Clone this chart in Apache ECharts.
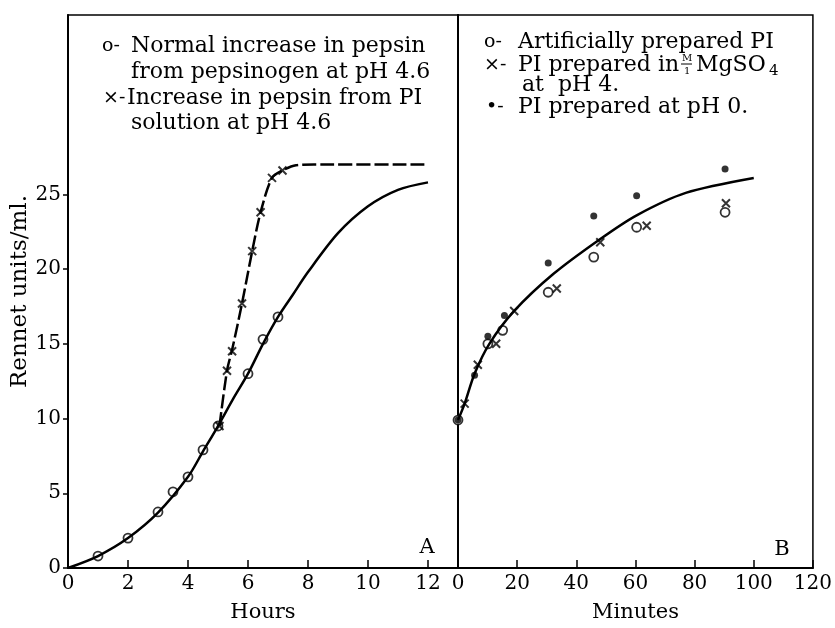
<!DOCTYPE html>
<html>
<head>
<meta charset="utf-8">
<script src="https://cdn.jsdelivr.net/npm/echarts@6/dist/echarts.min.js"></script>
<style>
  html, body { margin: 0; padding: 0; background: #fff; }
  #chart { width: 835px; height: 628px; }
</style>
</head>
<body>
<div id="chart"></div>
<script>
// Panel A: hours
var hoursTicks = [0, 2, 4, 6, 8, 10, 12];
var normalPoints = [[1, 0.8], [2, 2.0], [3, 3.75], [3.5, 5.1], [4, 6.1], [4.5, 7.9], [5, 9.5], [6, 13.0], [6.5, 15.3], [7, 16.8]];
var normalCurve = [[0, 0], [1, 0.8], [2, 2.0], [3, 3.7], [4, 6.1], [4.5, 7.8], [5, 9.5], [5.5, 11.3], [6, 13.0], [6.5, 15.0], [7, 16.8], [7.5, 18.3], [8, 19.8], [9, 22.4], [10, 24.2], [11, 25.3], [12, 25.8]];
var piPoints = [[5.05, 9.5], [5.3, 13.2], [5.47, 14.5], [5.8, 17.7], [6.14, 21.2], [6.42, 23.8], [6.8, 26.1], [7.15, 26.6]];
var piCurve = [[5.05, 9.5], [5.3, 13.2], [5.47, 14.6], [5.8, 17.7], [6.14, 21.2], [6.42, 23.8], [6.8, 26.1], [7.15, 26.6], [7.6, 26.95], [8.2, 27.0], [12, 27.0]];

// Panel B: minutes
var minutesTicks = [0, 20, 40, 60, 80, 100, 120];
var artificialPts = [[0, 9.9], [10.1, 15.0], [15.1, 15.9], [30.5, 18.45], [45.9, 20.8], [60.4, 22.8], [90.3, 23.8]];
var mgso4Pts = [[2.25, 11.0], [6.7, 13.6], [12.9, 15.0], [19.0, 17.2], [33.4, 18.7], [48.1, 21.8], [63.8, 22.9], [90.6, 24.4]];
var ph0Pts = [[0, 9.9], [5.6, 12.9], [10.1, 15.5], [15.7, 16.9], [30.5, 20.4], [45.9, 23.55], [60.4, 24.9], [90.3, 26.7]];
var minutesCurve = [[0, 9.9], [2.25, 11.0], [5.6, 13.0], [10.6, 15.0], [19, 17.2], [32.4, 19.7], [48, 22.0], [60.4, 23.6], [77, 25.1], [100, 26.1]];

var yTicks = [0, 5, 10, 15, 20, 25];

var FONT = 'DejaVu Serif';
var crossPath = 'path://M0,0L10,10M10,0L0,10';

var chart = echarts.init(document.getElementById('chart'));

function txt(x, y, s, size, extra) {
  var style = { text: s, font: size + 'px "' + FONT + '"', fill: '#000', verticalAlign: 'middle' };
  if (extra) { for (var k in extra) style[k] = extra[k]; }
  return { type: 'text', x: x, y: y, style: style };
}

function xAxisFor(idx, max, ticks, name) {
  return {
    type: 'value', gridIndex: idx, min: 0, max: max,
    name: name, nameLocation: 'middle', nameGap: 34,
    nameTextStyle: { fontFamily: FONT, fontSize: 21, color: '#000' },
    axisLine: { show: true, lineStyle: { color: '#000', width: 2 } },
    axisTick: { show: true, inside: true, length: 8, customValues: ticks, lineStyle: { color: '#000', width: 1.5 } },
    axisLabel: { customValues: ticks, margin: 6, fontFamily: FONT, fontSize: 20, color: '#000' },
    splitLine: { show: false }
  };
}

chart.setOption({
  animation: false,
  backgroundColor: '#fff',
  grid: [
    { left: 68, top: 15, width: 390, height: 555, show: true, borderColor: '#000', borderWidth: 1.5 },
    { left: 458, top: 15, width: 358, height: 555, show: true, borderColor: '#000', borderWidth: 1.5 }
  ],
  xAxis: [
    xAxisFor(0, 13, hoursTicks, 'Hours'),
    xAxisFor(1, 120, minutesTicks, 'Minutes')
  ],
  yAxis: [
    {
      type: 'value', gridIndex: 0, min: 0, max: 37,
      name: 'Rennet units/ml.', nameLocation: 'middle', nameGap: 33, nameRotate: 90,
      nameTextStyle: { fontFamily: FONT, fontSize: 23, color: '#000' },
      axisLine: { show: true, lineStyle: { color: '#000', width: 2 } },
      axisTick: { show: true, length: 5, customValues: yTicks, lineStyle: { color: '#000', width: 1.5 } },
      axisLabel: { customValues: yTicks, margin: 7, fontFamily: FONT, fontSize: 20, color: '#000' },
      splitLine: { show: false }
    },
    {
      type: 'value', gridIndex: 1, min: 0, max: 37,
      axisLine: { show: true, lineStyle: { color: '#000', width: 2 } },
      axisTick: { show: false }, axisLabel: { show: false }, splitLine: { show: false }
    }
  ],
  series: [
    { type: 'line', xAxisIndex: 0, yAxisIndex: 0, data: normalCurve, smooth: 0.3, showSymbol: false,
      lineStyle: { color: '#000', width: 2.5 } },
    { type: 'line', xAxisIndex: 0, yAxisIndex: 0, data: piCurve, smooth: 0.3, showSymbol: false,
      lineStyle: { color: '#000', width: 2.5, type: [14, 4] } },
    { type: 'scatter', xAxisIndex: 0, yAxisIndex: 0, data: normalPoints, symbol: 'circle', symbolSize: 9,
      itemStyle: { color: '#fff', borderColor: '#000', borderWidth: 1.8 } },
    { type: 'scatter', xAxisIndex: 0, yAxisIndex: 0, data: piPoints, symbol: crossPath, symbolSize: 8,
      itemStyle: { color: 'none', borderColor: '#000', borderWidth: 2 } },
    { type: 'line', xAxisIndex: 1, yAxisIndex: 1, data: minutesCurve, smooth: 0.3, showSymbol: false,
      lineStyle: { color: '#000', width: 2.5 } },
    { type: 'scatter', xAxisIndex: 1, yAxisIndex: 1, data: artificialPts, symbol: 'circle', symbolSize: 9,
      itemStyle: { color: '#fff', borderColor: '#000', borderWidth: 1.8 } },
    { type: 'scatter', xAxisIndex: 1, yAxisIndex: 1, data: mgso4Pts, symbol: crossPath, symbolSize: 8,
      itemStyle: { color: 'none', borderColor: '#000', borderWidth: 2 } },
    { type: 'scatter', xAxisIndex: 1, yAxisIndex: 1, data: ph0Pts, symbol: 'circle', symbolSize: 7,
      itemStyle: { color: '#000' } }
  ],
  graphic: [
    // panel A legend
    txt(102, 46, 'o-', 19),
    txt(131, 46, 'Normal increase in pepsin', 22),
    txt(131, 72, 'from pepsinogen at pH 4.6', 22),
    txt(103, 98, '×-', 19),
    txt(127, 98, 'Increase in pepsin from PI', 22),
    txt(131, 123, 'solution at pH 4.6', 22),
    // panel B legend
    txt(484, 42, 'o-', 19),
    txt(518, 42, 'Artificially prepared PI', 22),
    txt(484, 65, '×-', 19),
    txt(518, 65, 'PI prepared in', 22),
    txt(682, 58, 'M', 10),
    { type: 'line', shape: { x1: 681, y1: 64, x2: 692, y2: 64 }, style: { stroke: '#000', lineWidth: 1 } },
    txt(684, 71, '1', 10),
    txt(696, 65, 'MgSO', 22),
    txt(769, 71, '4', 15),
    txt(522, 85, 'at  pH 4.', 22),
    txt(486, 107, '•-', 19),
    txt(518, 107, 'PI prepared at pH 0.', 22),
    // panel letters
    txt(427, 548, 'A', 21, { align: 'center' }),
    txt(782, 550, 'B', 21, { align: 'center' })
  ]
});
</script>
</body>
</html>
